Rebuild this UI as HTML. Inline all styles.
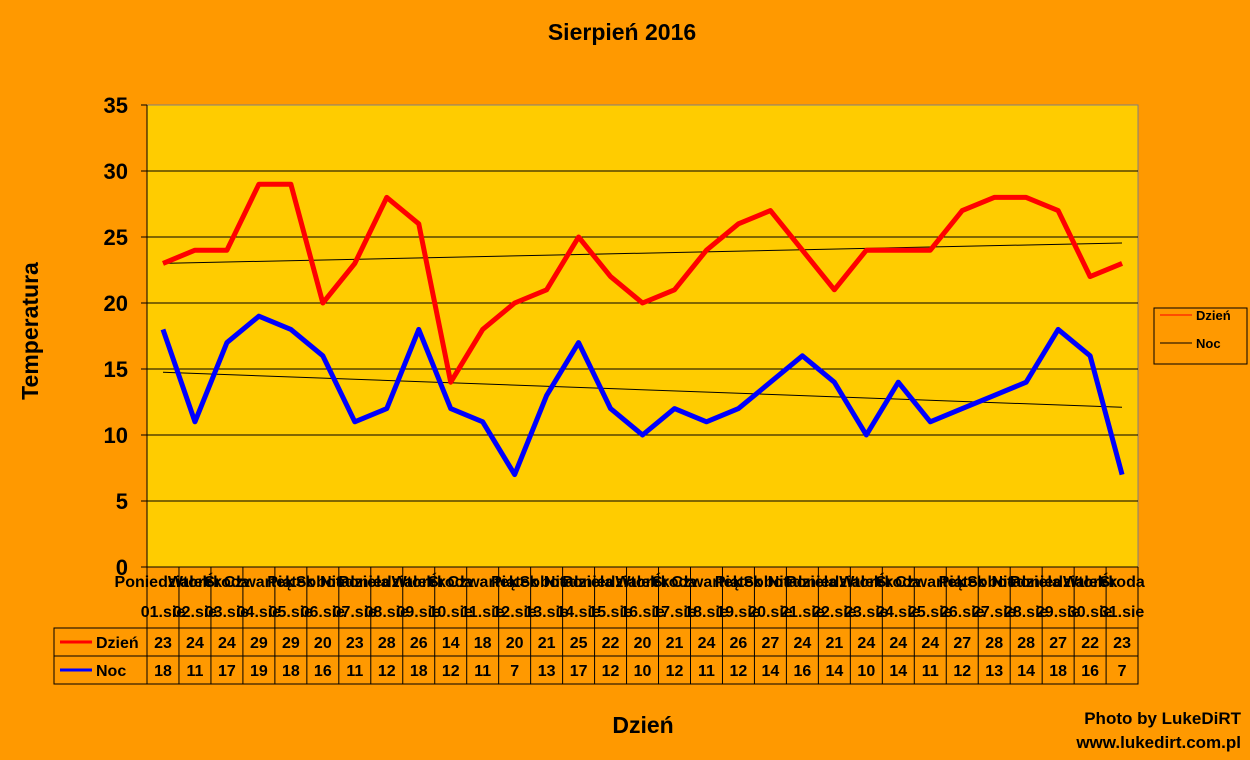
<!DOCTYPE html>
<html><head><meta charset="utf-8"><style>
body{margin:0;background:#FF9900;}
svg{display:block;font-family:"Liberation Sans",Arial,sans-serif;font-weight:bold;}
</style></head><body>
<svg id="s" width="1250" height="760" xmlns="http://www.w3.org/2000/svg">
<rect width="1250" height="760" fill="#FF9900"/>
<rect x="147" y="105" width="991" height="462" fill="#FFCC00" stroke="#808080" stroke-width="1"/>
<text x="622" y="40" font-size="23" text-anchor="middle">Sierpień 2016</text>
<text x="38" y="331" font-size="23" text-anchor="middle" transform="rotate(-90 38 331)">Temperatura</text>
<text x="643" y="733" font-size="23" text-anchor="middle">Dzień</text>
<text x="1241" y="724" font-size="17" text-anchor="end">Photo by LukeDiRT</text>
<text x="1241" y="748" font-size="17" text-anchor="end">www.lukedirt.com.pl</text>
<rect x="1154" y="308" width="93" height="56" fill="#FF9900" stroke="#000" stroke-width="1"/>
<line x1="1160" y1="315" x2="1192" y2="315" stroke="#FF0000" stroke-width="1"/>
<text x="1196" y="320" font-size="13">Dzień</text>
<line x1="1160" y1="343" x2="1192" y2="343" stroke="#000" stroke-width="1"/>
<text x="1196" y="348" font-size="13">Noc</text>
<g id="g"></g>
</svg>
<script>
var d=[23,24,24,29,29,20,23,28,26,14,18,20,21,25,22,20,21,24,26,27,24,21,24,24,24,27,28,28,27,22,23];
var n=[18,11,17,19,18,16,11,12,18,12,11,7,13,17,12,10,12,11,12,14,16,14,10,14,11,12,13,14,18,16,7];
var days=["Poniedziałek","Wtorek","Środa","Czwartek","Piątek","Sobota","Niedziela"];
var h='';
function Y(v){return 567-v*13.2;}
function X(i){return 147+31.97*(i+0.5);}
for(var v=0;v<=35;v+=5){
 if(v>0&&v<35)h+='<line x1="147" y1="'+Y(v)+'" x2="1138" y2="'+Y(v)+'" stroke="#000" stroke-width="1"/>';
 h+='<line x1="141" y1="'+Y(v)+'" x2="147" y2="'+Y(v)+'" stroke="#000"/>';
 h+='<text x="128" y="'+(Y(v)+8)+'" font-size="22" text-anchor="end">'+v+'</text>';
}
h+='<line x1="147" y1="105" x2="147" y2="567" stroke="#000"/>';
h+='<line x1="147" y1="567" x2="1138" y2="567" stroke="#000"/>';
h+='<line x1="163" y1="'+Y(23)+'" x2="1122" y2="'+Y(24.55)+'" stroke="#000" stroke-width="1"/>';
h+='<line x1="163" y1="'+Y(14.75)+'" x2="1122" y2="'+Y(12.1)+'" stroke="#000" stroke-width="1"/>';
var pd='',pn='';
for(var i=0;i<31;i++){pd+=(i?'L':'M')+X(i)+' '+Y(d[i]);pn+=(i?'L':'M')+X(i)+' '+Y(n[i]);}
h+='<path d="'+pd+'" fill="none" stroke="#FF0000" stroke-width="5" stroke-linejoin="round"/>';
h+='<path d="'+pn+'" fill="none" stroke="#0000FF" stroke-width="5" stroke-linejoin="round"/>';
h+='<rect x="54" y="628" width="1084" height="56" fill="none" stroke="#000"/>';
h+='<line x1="54" y1="656" x2="1138" y2="656" stroke="#000"/>';
h+='<line x1="60" y1="642" x2="92" y2="642" stroke="#FF0000" stroke-width="3"/>';
h+='<text x="96" y="648" font-size="16">Dzień</text>';
h+='<line x1="60" y1="670" x2="92" y2="670" stroke="#0000FF" stroke-width="3"/>';
h+='<text x="96" y="676" font-size="16">Noc</text>';
for(var i=0;i<31;i++){
 var x0=147+31.97*i;
 h+='<line x1="'+x0+'" y1="567" x2="'+x0+'" y2="684" stroke="#000"/>';
 h+='<text x="'+X(i)+'" y="587" font-size="16" text-anchor="middle">'+days[i%7]+'</text>';
 h+='<text x="'+X(i)+'" y="617" font-size="16" text-anchor="middle">'+(i<9?'0':'')+(i+1)+'.sie</text>';
 h+='<text x="'+X(i)+'" y="648" font-size="16" text-anchor="middle">'+d[i]+'</text>';
 h+='<text x="'+X(i)+'" y="676" font-size="16" text-anchor="middle">'+n[i]+'</text>';
}
h+='<line x1="1138" y1="567" x2="1138" y2="684" stroke="#000"/>';
document.getElementById('g').innerHTML=h;
</script>
</body></html>
